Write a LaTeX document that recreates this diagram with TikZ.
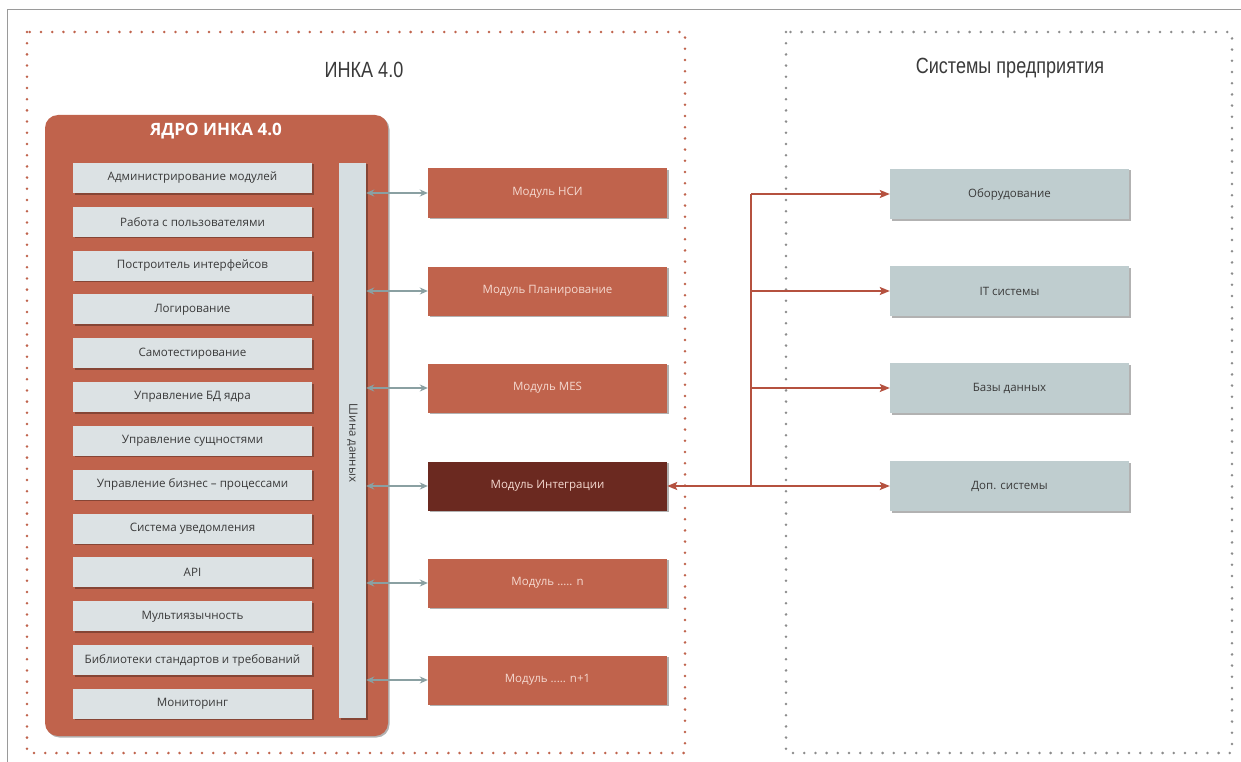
\documentclass[tikz,border=0pt]{standalone}
\usepackage{fontspec}
\setmainfont{Open Sans}
\newfontfamily\narrowfont[FakeStretch=0.82]{Liberation Sans}
\usetikzlibrary{shadows,arrows.meta}
\definecolor{terra}{HTML}{C0634C}
\definecolor{darkmod}{HTML}{6B2920}
\definecolor{itemgray}{HTML}{DCE2E4}
\definecolor{busgray}{HTML}{D6DEE1}
\definecolor{sysgray}{HTML}{BFCDCF}
\definecolor{textgray}{HTML}{3A3A3A}
\definecolor{modtext}{HTML}{F5D9D0}
\definecolor{garrowc}{HTML}{8AA0A2}
\definecolor{redc}{HTML}{B5513F}
\definecolor{framegray}{HTML}{9A9A9A}
\definecolor{reddot}{HTML}{C0634C}
\definecolor{graydot}{HTML}{8C8C8C}
\begin{document}
\begin{tikzpicture}[x=1pt,y=-1pt,
  shad/.style={drop shadow={shadow xshift=1.5pt,shadow yshift=-1.5pt,opacity=0.3,fill=black}},
  item/.style={shad,fill=itemgray,minimum width=239pt,minimum height=30pt,inner sep=0pt,
    font=\fontsize{11.6}{13}\selectfont,text=textgray},
  module/.style={shad,fill=terra,minimum width=239pt,minimum height=49pt,inner sep=0pt,
    font=\fontsize{11.5}{13}\selectfont,text=modtext},
  sysbox/.style={shad,fill=sysgray,minimum width=239pt,minimum height=50pt,inner sep=0pt,
    font=\fontsize{11.5}{13}\selectfont,text=textgray},
  dotframe/.style={line width=2.8pt,line cap=round,dash pattern=on 0pt off 11.2pt},
  garrow/.style={draw=garrowc,line width=1.5pt,{Stealth[length=8pt,width=7pt]}-{Stealth[length=8pt,width=7pt]}},
  rline/.style={draw=redc,line width=1.6pt},
  rhead/.style={-{Stealth[length=10pt,width=8pt,inset=2pt]}}
]
\useasboundingbox (0,0) rectangle (1241,762);
\fill[white] (0,0) rectangle (1241,762);
% outer gray lines
\draw[framegray,line width=1pt] (7,762) -- (7,10) -- (1241,10);
% dotted frames
\draw[dotframe,reddot] (27,32) rectangle (685,753);
\draw[dotframe,graydot] (786,32) rectangle (1232,753);
% titles
\node (t1) at (364,70) {\narrowfont\fontsize{22}{26}\selectfont\color{textgray}ИНКА 4.0};
\node (t2) at (1010,68) {\narrowfont\fontsize{22}{26}\selectfont\color{textgray}Системы предприятия};
% core box
\node (core) [shad,fill=terra,rounded corners=13pt,minimum width=343pt,minimum height=621pt,inner sep=0pt] at (216.5,425.5) {};
\node (coret) at (216,131) {\fontsize{17}{20}\selectfont\bfseries\color{white}ЯДРО ИНКА 4.0};
% items
\foreach \n/\t [count=\k from 0] in {i1/Администрирование модулей,i2/Работа с пользователями,i3/Построитель интерфейсов,i4/Логирование,i5/Самотестирование,i6/Управление БД ядра,i7/Управление сущностями,i8/Управление бизнес – процессами,i9/Система уведомления,i10/API,i11/Мультиязычность,i12/Библиотеки стандартов и требований,i13/Мониторинг}
  \node (\n) [item] at (192.5,178+43.83*\k) {\t};
% bus
\node (bus) [shad,fill=busgray,minimum width=27pt,minimum height=555pt,inner sep=0pt] at (352.5,440.5) {};
\node (bust) [rotate=-90,font=\fontsize{11.5}{13}\selectfont,text=textgray] at (352.5,443) {Шина данных};
% modules
\node (m1) [module] at (547.5,193) {Модуль НСИ};
\node (m2) [module] at (547.5,291) {Модуль Планирование};
\node (m3) [module] at (547.5,388) {Модуль MES};
\node (m4) [module,fill=darkmod] at (547.5,486) {Модуль Интеграции};
\node (m5) [module] at (547.5,583) {Модуль ..... n};
\node (m6) [module] at (547.5,680) {Модуль ..... n+1};
\foreach \m in {m1,m2,m3,m4,m5,m6}
  \draw[garrow] (bus.east |- \m.west) -- (\m.west);
% enterprise systems
\node (r1) [sysbox] at (1009.5,194) {Оборудование};
\node (r2) [sysbox] at (1009.5,291) {IT системы};
\node (r3) [sysbox] at (1009.5,388) {Базы данных};
\node (r4) [sysbox] at (1009.5,486) {Доп. системы};
% red connectors
\coordinate (sp) at (751,0);
\draw[rline,{Stealth[length=10pt,width=8pt,inset=2pt]}-{Stealth[length=10pt,width=8pt,inset=2pt]}] (m4.east) -- (r4.west);
\draw[rline] (sp |- r1.west) -- (sp |- r4.west);
\foreach \r in {r1,r2,r3}
  \draw[rline,rhead] (sp |- \r.west) -- (\r.west);
\end{tikzpicture}
\end{document}
